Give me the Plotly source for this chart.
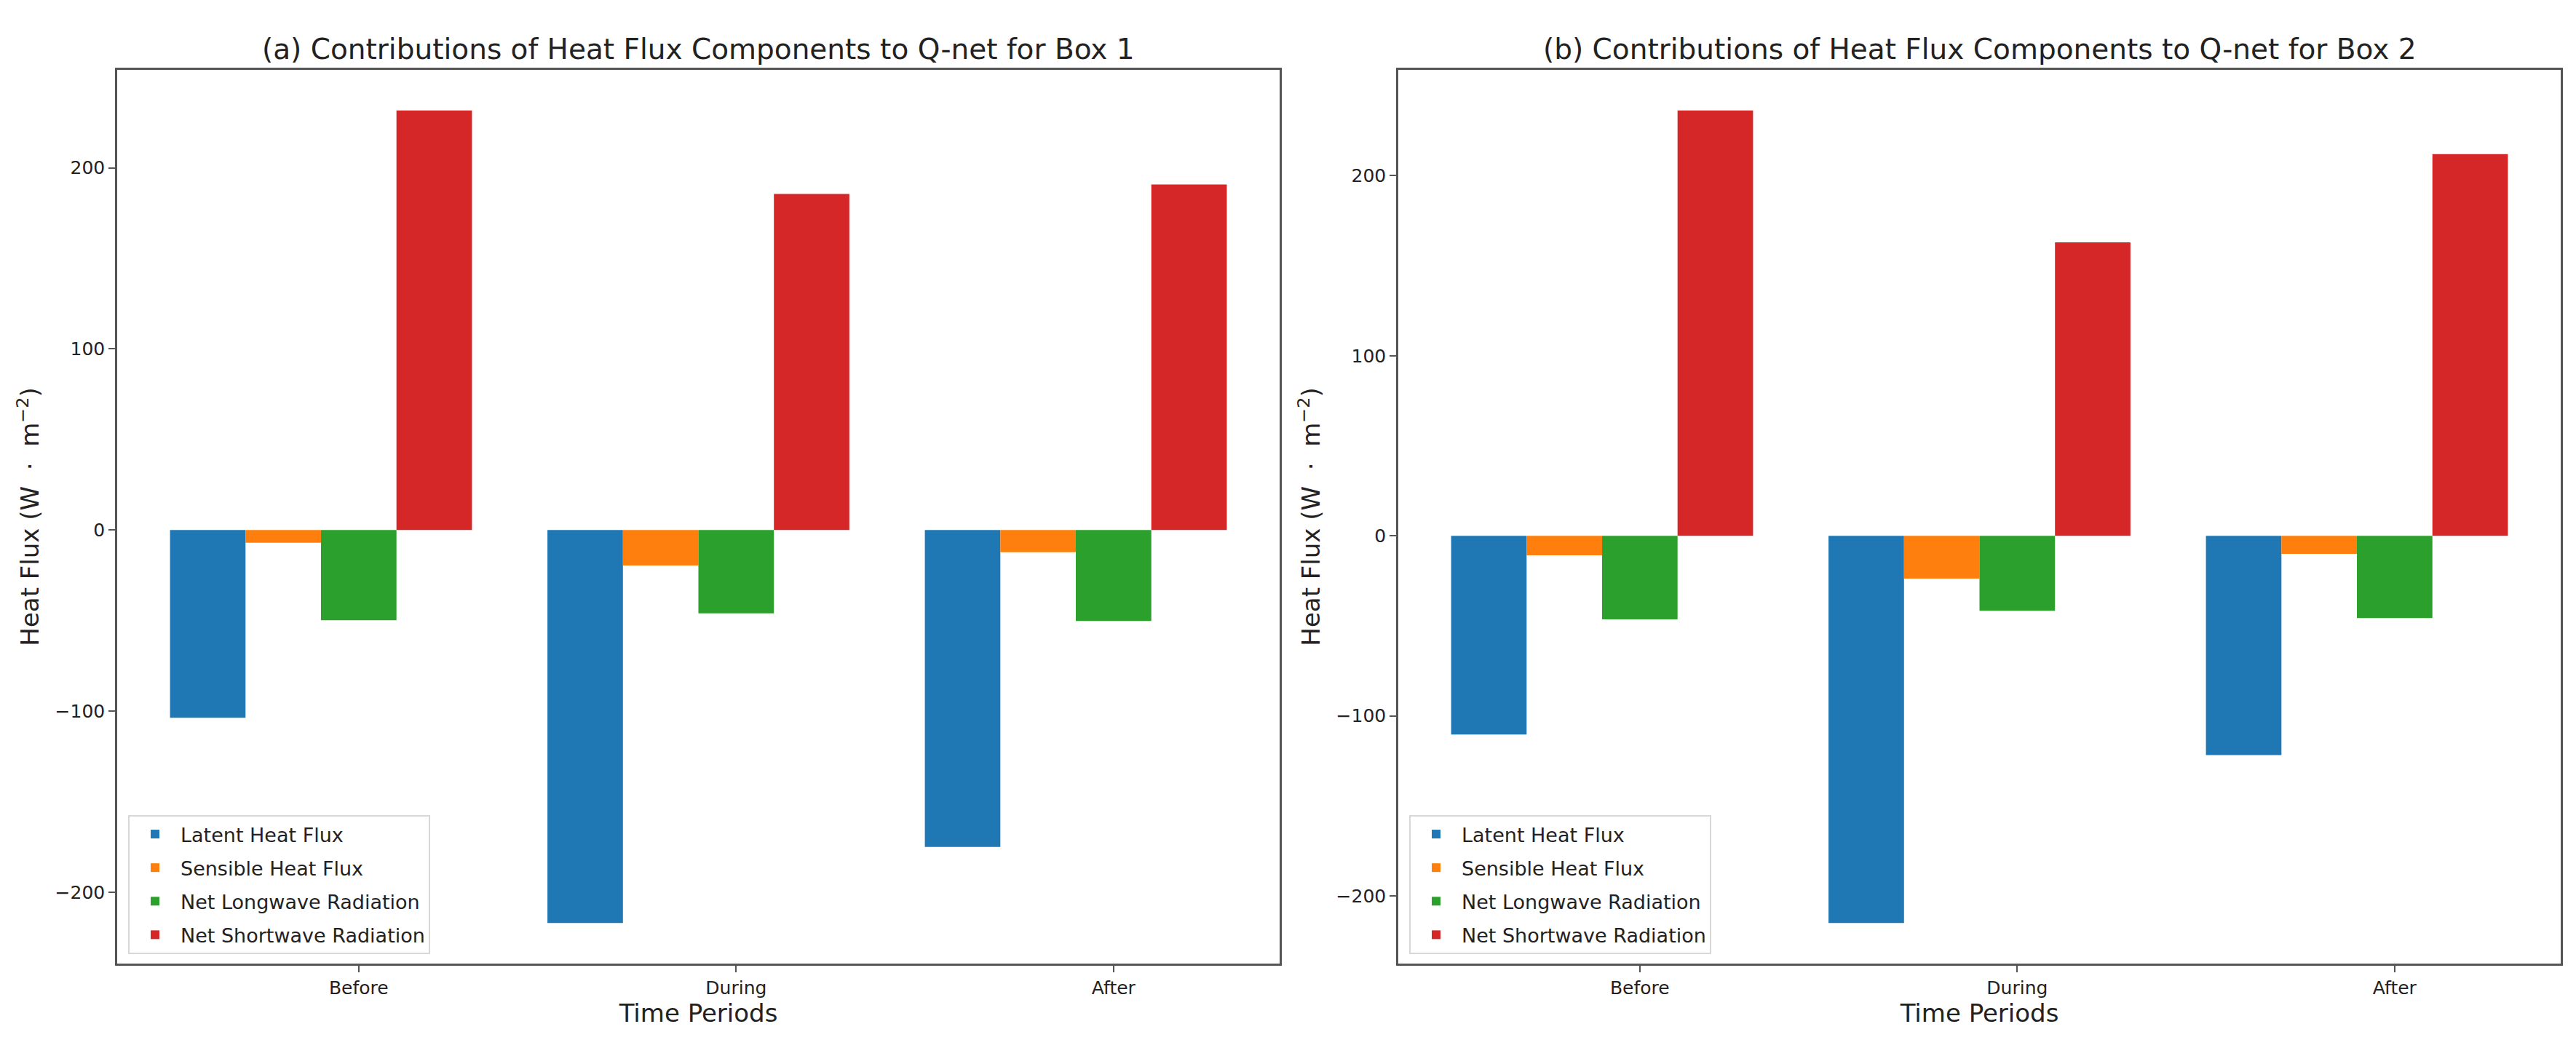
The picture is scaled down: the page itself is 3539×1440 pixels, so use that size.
import plotly.graph_objects as go
from plotly.subplots import make_subplots

periods = ["Before", "During", "After"]
components = ["Latent Heat Flux", "Sensible Heat Flux",
              "Net Longwave Radiation", "Net Shortwave Radiation"]
colors = ["#1f77b4", "#ff7f0e", "#2ca02c", "#d62728"]

# Box 1 values (W m^-2)
box1_latent = [-103.7, -217.0, -175.0]
box1_sensible = [-7.0, -19.6, -12.2]
box1_longwave = [-49.8, -46.0, -50.2]
box1_shortwave = [231.7, 185.6, 190.8]

# Box 2 values (W m^-2)
box2_latent = [-110.3, -215.0, -121.8]
box2_sensible = [-10.8, -23.8, -10.0]
box2_longwave = [-46.4, -41.6, -45.7]
box2_shortwave = [236.2, 163.0, 212.0]

titles = ["(a) Contributions of Heat Flux Components to Q-net for Box 1",
          "(b) Contributions of Heat Flux Components to Q-net for Box 2"]

W, H = 3539, 1440
FONT = "DejaVu Sans"
bar_w = 0.2
offsets = [-0.5, -0.3, -0.1, 0.1]  # left edge of each bar relative to tick

fig = make_subplots(rows=1, cols=2, horizontal_spacing=0.05)

boxes = [
    [box1_latent, box1_sensible, box1_longwave, box1_shortwave],
    [box2_latent, box2_sensible, box2_longwave, box2_shortwave],
]

for b, series in enumerate(boxes):
    for k, vals in enumerate(series):
        fig.add_trace(go.Bar(
            x=periods, y=vals, name=components[k],
            width=bar_w, offset=offsets[k],
            marker=dict(color=colors[k], line=dict(width=0)),
            legend="legend" if b == 0 else "legend2",
            legendgroup="box%d_%d" % (b + 1, k),
        ), row=1, col=b + 1)

xdoms = [[153 / W, 1750 / W], [1913 / W, 3510 / W]]
ydom = [1 - 1316 / H, 1 - 88 / H]

axis_common = dict(
    showline=True, linecolor="#555", linewidth=2.5, mirror=True,
    ticks="outside", ticklen=9, tickwidth=2, tickcolor="#555",
    showgrid=False, zeroline=False,
    tickfont=dict(family=FONT, size=25, color="#222"),
)

ylabel = "Heat Flux (W\u00a0\u00a0·\u00a0\u00a0m<sup>−2</sup>)"

for b, series in enumerate(boxes):
    allv = [v for s in series for v in s]
    lo, hi = min(allv), max(allv)
    pad = 0.05 * (hi - lo)
    xa = "xaxis" if b == 0 else "xaxis2"
    ya = "yaxis" if b == 0 else "yaxis2"
    fig.update_layout(**{
        xa: dict(axis_common, domain=xdoms[b], range=[-0.64, 2.44],
                 type="category",
                 title=dict(text="Time Periods", standoff=8,
                            font=dict(family=FONT, size=34, color="#222"))),
        ya: dict(axis_common, domain=ydom, range=[lo - pad, hi + pad],
                 tickvals=[-200, -100, 0, 100, 200],
                 title=dict(text=ylabel, standoff=12,
                            font=dict(family=FONT, size=34, color="#222"))),
    })

for b in range(2):
    fig.add_annotation(
        text=titles[b], xref="paper", yref="paper",
        x=(xdoms[b][0] + xdoms[b][1]) / 2, y=1 - 60 / H,
        xanchor="center", yanchor="middle", showarrow=False,
        font=dict(family=FONT, size=39, color="#222"),
    )

legend_common = dict(
    xanchor="left", yanchor="bottom",
    bgcolor="rgba(255,255,255,0.8)", bordercolor="#d8d8d8", borderwidth=2,
    font=dict(family=FONT, size=27, color="#222"),
    traceorder="grouped", tracegroupgap=8, itemwidth=60,
)

fig.update_layout(
    width=W, height=H,
    margin=dict(l=0, r=0, t=0, b=0),
    paper_bgcolor="white", plot_bgcolor="white",
    barmode="overlay",
    showlegend=True,
    legend=dict(legend_common, x=168 / W, y=1 - 1303 / H),
    legend2=dict(legend_common, x=1928 / W, y=1 - 1303 / H),
)

fig.write_html("out.html")
